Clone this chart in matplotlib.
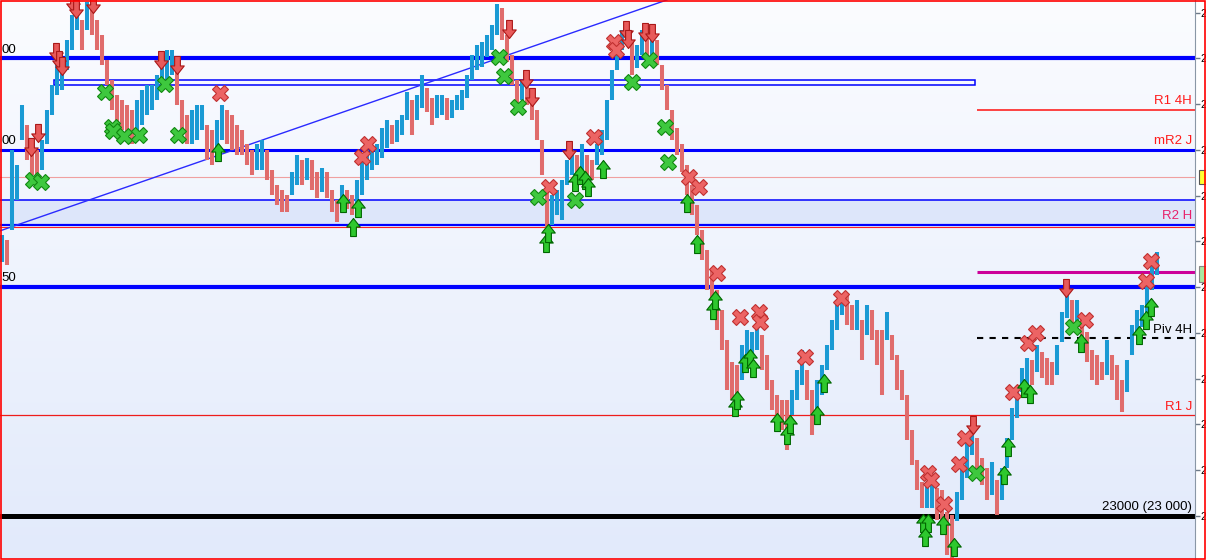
import numpy as np
import matplotlib
matplotlib.use("Agg")
import matplotlib.pyplot as plt
from matplotlib.path import Path
from matplotlib.patches import Rectangle
from matplotlib.colors import LinearSegmentedColormap
import matplotlib.transforms as mtransforms

plt.rcParams["font.family"] = ["Liberation Sans", "DejaVu Sans"]

# --- price bars (one every bar index), high / low ---
highs = [23307, 23302, 23400, 23384, 23449, 23427, 23406, 23400, 23411, 23444,
         23471, 23493, 23493, 23520, 23548, 23559, 23542, 23562, 23555, 23542,
         23526, 23498, 23477, 23460, 23455, 23449, 23444, 23455, 23466, 23471,
         23471, 23482, 23498, 23509, 23509, 23493, 23455, 23438, 23444, 23449,
         23449, 23427, 23422, 23433, 23449, 23444, 23438, 23427, 23422, 23406,
         23400, 23406, 23411, 23400, 23378, 23362, 23356, 23351, 23376, 23395,
         23389, 23391, 23389, 23376, 23380, 23376, 23356, 23345, 23362, 23356,
         23351, 23367, 23389, 23400, 23400, 23406, 23424, 23433, 23427, 23433,
         23438, 23463, 23455, 23460, 23482, 23468, 23457, 23460, 23460, 23457,
         23455, 23460, 23466, 23482, 23504, 23515, 23518, 23526, 23537, 23559,
         23555, 23526, 23504, 23477, 23477, 23471, 23460, 23444, 23411, 23362,
         23351, 23356, 23367, 23389, 23400, 23395, 23406, 23395, 23389, 23406,
         23422, 23455, 23487, 23515, 23531, 23537, 23520, 23515, 23531, 23526,
         23531, 23520, 23493, 23471, 23444, 23424, 23406, 23384, 23362, 23340,
         23313, 23291, 23269, 23247, 23225, 23192, 23168, 23165, 23187, 23203,
         23201, 23209, 23198, 23176, 23149, 23132, 23127, 23127, 23138, 23160,
         23181, 23160, 23138, 23149, 23165, 23187, 23214, 23236, 23242, 23242,
         23231, 23236, 23214, 23231, 23225, 23203, 23203, 23223, 23198, 23176,
         23160, 23132, 23094, 23061, 23037, 23037, 23045, 23031, 23028, 23004,
         23001, 23026, 23056, 23083, 23096, 23085, 23063, 23052, 23059, 23039,
         23052, 23085, 23118, 23140, 23162, 23173, 23171, 23187, 23179, 23173,
         23168, 23187, 23223, 23247, 23236, 23236, 23220, 23201, 23181, 23176,
         23168, 23192, 23176, 23165, 23149, 23171, 23209, 23225, 23231, 23252,
         23274, 23289]
lows = [23278, 23274, 23313, 23345, 23411, 23389, 23373, 23367, 23378, 23406,
        23438, 23460, 23466, 23487, 23509, 23531, 23509, 23531, 23526, 23509,
        23493, 23471, 23444, 23427, 23422, 23416, 23406, 23416, 23427, 23438,
        23444, 23455, 23471, 23477, 23482, 23449, 23422, 23406, 23406, 23411,
        23422, 23389, 23384, 23400, 23411, 23406, 23400, 23395, 23395, 23384,
        23373, 23378, 23378, 23367, 23351, 23340, 23332, 23332, 23351, 23362,
        23362, 23367, 23356, 23348, 23354, 23348, 23332, 23321, 23335, 23335,
        23329, 23340, 23351, 23367, 23378, 23384, 23391, 23402, 23406, 23409,
        23416, 23433, 23416, 23433, 23446, 23442, 23427, 23435, 23438, 23433,
        23435, 23444, 23444, 23457, 23477, 23487, 23491, 23502, 23509, 23526,
        23520, 23496, 23471, 23449, 23455, 23449, 23433, 23411, 23373, 23291,
        23318, 23329, 23324, 23362, 23373, 23367, 23378, 23365, 23367, 23384,
        23395, 23411, 23455, 23487, 23509, 23515, 23482, 23490, 23504, 23498,
        23504, 23493, 23466, 23444, 23411, 23395, 23376, 23351, 23329, 23307,
        23280, 23247, 23236, 23203, 23181, 23138, 23127, 23110, 23149, 23171,
        23173, 23181, 23160, 23138, 23116, 23092, 23094, 23072, 23110, 23127,
        23143, 23127, 23089, 23116, 23132, 23160, 23181, 23203, 23220, 23209,
        23203, 23203, 23171, 23198, 23192, 23165, 23132, 23192, 23171, 23138,
        23127, 23083, 23056, 23028, 23009, 23009, 23009, 22996, 22985, 22957,
        22954, 22994, 23018, 23042, 23067, 23050, 23034, 23018, 23023, 23001,
        23018, 23052, 23083, 23107, 23136, 23143, 23143, 23157, 23151, 23143,
        23143, 23154, 23190, 23216, 23206, 23209, 23192, 23168, 23149, 23143,
        23149, 23154, 23149, 23127, 23114, 23136, 23176, 23198, 23206, 23220,
        23247, 23263]

# --- signals: (bar index, price) ---
sell_arrow_x = [5.8, 7.2, 10.8, 11.4, 12.0, 14.2, 14.8, 18.2, 31.8, 35.0, 101.4, 104.8,
                106.0, 113.4, 124.8, 125.2, 128.6, 130.0, 194.2, 212.8]
sell_arrow_y = [23403, 23419, 23507, 23498, 23492, 23561, 23554, 23560, 23498, 23493, 23532, 23478,
                23458, 23400, 23531, 23521, 23529, 23528, 23099, 23249]
buy_arrow_x = [43.2, 68.2, 71.2, 70.2, 108.8, 109.2, 114.6, 115.6, 116.6, 117.2, 120.2, 137.0,
               139.0, 142.2, 142.6, 146.6, 147.0, 148.6, 149.6, 150.2, 155.0, 157.0, 157.6,
               163.0, 164.4, 184.2, 185.2, 184.6, 188.2, 190.4, 200.4, 201.2, 204.4, 205.6,
               215.8, 227.4, 228.8, 229.8]
buy_arrow_y = [23398, 23342, 23337, 23316, 23298, 23309, 23365, 23373, 23367, 23359, 23379, 23342,
               23297, 23225, 23236, 23119, 23127, 23167, 23173, 23162, 23103, 23089, 23101,
               23110, 23145, 22992, 22992, 22977, 22990, 22966, 23045, 23075, 23140, 23133,
               23189, 23198, 23214, 23228]
red_x_x = [43.6, 72.0, 73.2, 109.4, 118.4, 122.4, 122.8, 137.4, 139.4, 143.0, 147.6, 151.4,
           151.6, 160.6, 167.8, 185.2, 185.8, 188.4, 191.4, 192.6, 202.2, 205.2, 206.8,
           216.6, 228.8, 229.8]
red_x_y = [23462, 23392, 23406, 23360, 23414, 23518, 23509, 23371, 23359, 23266, 23217, 23223,
           23212, 23174, 23238, 23047, 23039, 23013, 23057, 23085, 23136, 23189, 23200,
           23214, 23257, 23279]
green_x_x = [6.2, 7.8, 20.6, 22.0, 22.2, 24.4, 27.4, 32.6, 35.2, 99.4, 100.4, 103.2, 107.2,
             114.6, 126.0, 129.4, 132.6, 133.2, 194.8, 214.2]
green_x_y = [23367, 23365, 23463, 23425, 23421, 23415, 23416, 23472, 23416, 23502, 23481, 23447,
             23349, 23345, 23474, 23498, 23425, 23387, 23047, 23207]

# --- levels ---
full_levels = [23500, 23400, 23371, 23345, 23318, 23316, 23250, 23110, 23000]
full_colors = ["#0000ff", "#0000ff", "#f0a0a0", "#0000ff", "#0000ff", "#ff2020", "#0000ff",
               "#ee1c1c", "#000000"]
full_widths = [3.0, 2.2, 0.8, 1.1, 1.6, 0.8, 3.0, 0.9, 3.6]
band_lo, band_hi = 23318, 23345
zone_lo, zone_hi = 23471, 23476
zone_x0, zone_x1 = 10.4, 194.6
short_start = 195.0
r1_4h, magenta_lvl, piv_4h = 23444, 23267, 23194
trend_x = [-0.4, 133.0]
trend_y = [23311.6, 23564]
# left-edge labels, only their last digits show in the window
left_labels = [(23500, "00"), (23400, "00"), (23250, "50")]
axis_ticks = list(range(23000, 23551, 50))

X0, X1 = -0.4, 238.6
Y0, Y1 = 22953.0, 23563.9

fig = plt.figure(figsize=(12.06, 5.6), dpi=100)
fig.patch.set_facecolor("white")
ax = fig.add_axes([0, 1 / 560, 1195 / 1206, 559 / 560])
ax.set_xlim(X0, X1)
ax.set_ylim(Y0, Y1)

# background gradient
cmap = LinearSegmentedColormap.from_list("bg", ["#e2eafb", "#fbfcff"])
ax.imshow(np.linspace(0, 1, 256).reshape(-1, 1), cmap=cmap, aspect="auto",
          extent=[X0, X1, Y0, Y1], origin="lower", zorder=0)

# band zone
ax.axhspan(band_lo, band_hi, color="#dde6fa", zorder=1, lw=0)
for lvl, c, w in zip(full_levels, full_colors, full_widths):
    ax.axhline(lvl, color=c, lw=w, zorder=2)
ax.add_patch(Rectangle((zone_x0, zone_lo), zone_x1 - zone_x0, zone_hi - zone_lo,
                       fill=False, edgecolor="#0000ff", lw=1.1, zorder=2))
ax.hlines(r1_4h, short_start, X1, color="#ff1010", lw=1.1, zorder=2)
ax.hlines(magenta_lvl, short_start, X1, color="#cc0099", lw=2.2, zorder=2)
ax.hlines(piv_4h, short_start, X1, color="#000000", lw=1.5, linestyles=(0, (3, 3)), zorder=2)
ax.plot(trend_x, trend_y, color="#2a2aff", lw=1.0, zorder=2)

# price bars
h = np.array(highs)
l = np.array(lows)
mid = (h + l) / 2
up = np.concatenate([[True], mid[1:] >= mid[:-1]])
idx = np.arange(len(h))
cols = np.where(up, "#1a9ad4", "#e06c6c")
ax.vlines(idx, l, h, colors=cols, lw=2.9, zorder=3, capstyle="butt")

# signal markers
up_arrow = Path([(-0.32, -1), (0.32, -1), (0.32, 0.05), (0.75, 0.05), (0, 1), (-0.75, 0.05),
                 (-0.32, 0.05), (-0.32, -1)], closed=True)
down_arrow = Path([(x, -y) for x, y in up_arrow.vertices], closed=True)
ax.plot(red_x_x, red_x_y, ls="none", marker="X", ms=12, mfc="#ec6464", mec="#c03030",
        mew=0.8, zorder=5)
ax.plot(green_x_x, green_x_y, ls="none", marker="X", ms=12, mfc="#3ec83e", mec="#118811",
        mew=0.8, zorder=5)
ax.plot(sell_arrow_x, sell_arrow_y, ls="none", marker=down_arrow, ms=13, mfc="#e85a5a",
        mec="#aa1818", mew=0.8, zorder=5)
ax.plot(buy_arrow_x, buy_arrow_y, ls="none", marker=up_arrow, ms=13, mfc="#2ec82e",
        mec="#006600", mew=0.8, zorder=5)

# labels on the right of the levels
rx = 1192 / 1195
lab_tr = mtransforms.blended_transform_factory(ax.transAxes, ax.transData)
for lvl, txt, c in [(r1_4h, "R1 4H", "#ff1a1a"), (23400, "mR2 J", "#ff1a1a"),
                    (band_lo, "R2 H", "#e8206a"), (piv_4h, "Piv 4H", "#000000"),
                    (23110, "R1 J", "#ff1a1a"), (23000, "23000 (23 000)", "#000000")]:
    ax.annotate(txt, xy=(rx, lvl), xycoords=lab_tr, xytext=(0, 2), textcoords="offset points",
                ha="right", va="bottom", color=c, fontsize=9.5, zorder=6)
for lvl, txt in left_labels:
    ax.annotate(txt, xy=(1 / 1195, lvl), xycoords=lab_tr, xytext=(0, 2),
                textcoords="offset points", ha="left", va="bottom", color="#000000",
                fontsize=9.5, zorder=6)

# right price axis (only the first digit fits in the window)
for s in ["left", "top", "bottom"]:
    ax.spines[s].set_visible(False)
ax.spines["right"].set_color("#8a97a6")
ax.set_xticks([])
ax.yaxis.tick_right()
ax.set_yticks(axis_ticks)
ax.set_yticklabels(["2"] * len(axis_ticks))
ax.tick_params(axis="y", colors="#6d7a88", length=3.5, width=1, labelsize=7.5, pad=0.5,
               labelcolor="#000000")

# small price tags on the axis
fig.add_artist(Rectangle((1199 / 1206, 1 - 184 / 560), 8 / 1206, 14 / 560,
                         transform=fig.transFigure, facecolor="#ffff30",
                         edgecolor="#555555", lw=0.8, zorder=7))
fig.add_artist(Rectangle((1199 / 1206, 1 - 282 / 560), 8 / 1206, 16 / 560,
                         transform=fig.transFigure, facecolor="#a8e8a0",
                         edgecolor="#888888", lw=0.8, zorder=7))

# red frame
fig.add_artist(Rectangle((0.5 / 1206, 1.5 / 560), 1204.5 / 1206, 558 / 560,
                         transform=fig.transFigure, fill=False, edgecolor="#ff0000",
                         lw=1.2, zorder=10))

fig.savefig("out.png", dpi=100)
